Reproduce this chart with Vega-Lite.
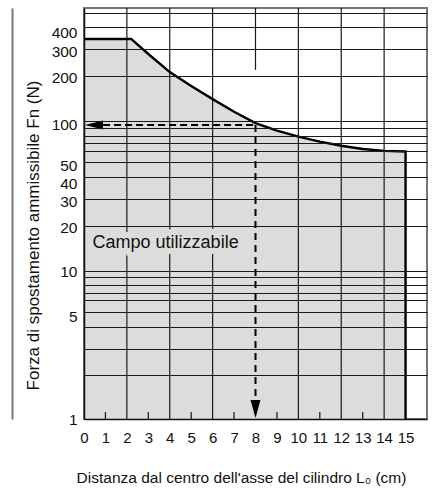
{
  "$schema": "https://vega.github.io/schema/vega-lite/v6.json",
  "autosize": "none",
  "width": 343,
  "height": 411,
  "padding": {"left": 84, "top": 8, "right": 7, "bottom": 74},
  "background": "white",
  "config": {
    "font": "Liberation Sans",
    "view": {"stroke": "#777", "strokeWidth": 2},
    "axis": {"labelFont": "Liberation Sans", "titleFont": "Liberation Sans", "labelColor": "#111", "titleColor": "#111", "titleFontWeight": "normal"}
  },
  "resolve": {"axis": {"y": "independent"}},
  "datasets": {
    "curve": [
      {"x": 0, "y": 385},
      {"x": 2.2, "y": 385},
      {"x": 3, "y": 304},
      {"x": 4, "y": 229},
      {"x": 5, "y": 184},
      {"x": 6, "y": 150},
      {"x": 7, "y": 123},
      {"x": 8, "y": 103},
      {"x": 9, "y": 91.5},
      {"x": 10, "y": 83.3},
      {"x": 11, "y": 77},
      {"x": 12, "y": 72.3},
      {"x": 13, "y": 68.7},
      {"x": 14, "y": 66.7},
      {"x": 15, "y": 66},
      {"x": 15, "y": 1}
    ],
    "vgrid": [
      {"x": 2, "y": 1, "y2": 625}, {"x": 4, "y": 1, "y2": 625}, {"x": 6, "y": 1, "y2": 625}, {"x": 8, "y": 237, "y2": 625}, {"x": 10, "y": 1, "y2": 625}, {"x": 12, "y": 1, "y2": 625}, {"x": 14, "y": 1, "y2": 625}
    ],
    "minorticks": [
      {"x": 1, "y": 1, "y2": 1.116}, {"x": 3, "y": 1, "y2": 1.116}, {"x": 5, "y": 1, "y2": 1.116}, {"x": 7, "y": 1, "y2": 1.116}, {"x": 9, "y": 1, "y2": 1.116}, {"x": 11, "y": 1, "y2": 1.116}, {"x": 13, "y": 1, "y2": 1.116}
    ],
    "hdash": [{"x": 0.89, "x2": 8, "y": 100}],
    "vdash": [{"x": 8, "y": 100, "y2": 1.35}],
    "larrow": [{"x": 0.466, "y": 100}],
    "darrow": [{"x": 8, "y": 1.17}],
    "label": [{"x": 0.4, "y": 15.7, "text": "Campo utilizzabile"}]
  },
  "encoding": {
    "x": {
      "field": "x",
      "type": "quantitative",
      "scale": {"domain": [0, 16], "nice": false, "zero": false},
      "axis": {
        "values": [0,1,2,3,4,5,6,7,8,9,10,11,12,13,14,15],
        "grid": false, "labelOverlap": false, "labelFlush": false,
        "domain": true, "domainColor": "#111", "domainWidth": 1.5,
        "ticks": false,
        "labelFontSize": 15, "labelPadding": 11, "labelAngle": 0,
        "title": "Distanza dal centro dell'asse del cilindro  L₀ (cm)",
        "titleFontSize": 15.5, "titleX": 157, "titleY": 58, "titleBaseline": "middle", "titleAnchor": "middle", "titleAlign": "center",
        "zindex": 1
      }
    },
    "y": {
      "type": "quantitative",
      "scale": {"type": "log", "domain": [1, 625], "nice": false}
    }
  },
  "layer": [
    {
      "data": {"name": "curve"},
      "mark": {"type": "area", "color": "#dcdcdc", "opacity": 1},
      "encoding": {
        "y": {"field": "y", "type": "quantitative",
          "axis": {
            "orient": "left",
            "values": [1,1.99,2.99,4.25,5,5.37,6.45,7.23,8.2,9.2,10,10.2,20,20.6,30,31.4,40,44.5,50,55.7,66.9,75.1,84.2,95,100,107,200,215,300,329,400,464,581],
            "labelExpr": "indexof([1,5,10,20,30,40,50,100,200,300,400], datum.value) >= 0 ? datum.label : ''",
            "grid": true, "gridColor": "#1a1a1a", "gridWidth": 1.2,
            "gridOpacity": {"condition": {"test": "indexof([1,5,10,20,30,40,50,100,200,300,400], datum.value) < 0", "value": 1}, "value": 0},
            "ticks": false, "labelOverlap": false, "labelFlush": false,
            "domain": true, "domainColor": "#111", "domainWidth": 1.5,
            "labelFontSize": 15.5, "labelPadding": 7,
            "labelOffset": {"condition": {"test": "datum.value >= 200 || datum.value == 50", "value": -3.5}, "value": 0},
            "title": "Forza di spostamento ammissibile  Fn (N)",
            "titleFontSize": 17, "titleX": -51, "titleY": 227, "titleBaseline": "middle", "titleAlign": "center", "titleAngle": -90,
            "zindex": 1
          }
        },
        "y2": {"datum": 1}
      }
    },
    {
      "data": {"name": "vgrid"},
      "mark": {"type": "rule", "color": "#1a1a1a", "strokeWidth": 1.2},
      "encoding": {
        "y": {"field": "y", "type": "quantitative",
          "axis": {"orient": "left", "offset": 72, "grid": false, "ticks": false, "labels": false, "title": null, "domain": true, "domainColor": "#777", "domainWidth": 2}},
        "y2": {"field": "y2"}
      }
    },
    {
      "data": {"name": "minorticks"},
      "mark": {"type": "rule", "color": "#222", "strokeWidth": 1.3},
      "encoding": {
        "y": {"field": "y", "type": "quantitative", "axis": null},
        "y2": {"field": "y2"}
      }
    },
    {
      "data": {"name": "curve"},
      "mark": {"type": "line", "color": "#000", "strokeWidth": 2.4, "strokeJoin": "miter"},
      "encoding": {
        "y": {"field": "y", "type": "quantitative", "axis": null}
      }
    },
    {
      "data": {"name": "hdash"},
      "mark": {"type": "rule", "color": "#000", "strokeWidth": 2, "strokeDash": [7, 4]},
      "encoding": {
        "x2": {"field": "x2"},
        "y": {"field": "y", "type": "quantitative", "axis": null}
      }
    },
    {
      "data": {"name": "vdash"},
      "mark": {"type": "rule", "color": "#000", "strokeWidth": 2, "strokeDash": [7, 5]},
      "encoding": {
        "y": {"field": "y", "type": "quantitative", "axis": null},
        "y2": {"field": "y2"}
      }
    },
    {
      "data": {"name": "larrow"},
      "mark": {"type": "point", "shape": "M -1 0 L 1 -0.5 L 1 0.5 Z", "filled": true, "color": "#000", "opacity": 1, "size": 324},
      "encoding": {
        "y": {"field": "y", "type": "quantitative", "axis": null}
      }
    },
    {
      "data": {"name": "darrow"},
      "mark": {"type": "point", "shape": "M 0 1 L -0.55 -1 L 0.55 -1 Z", "filled": true, "color": "#000", "opacity": 1, "size": 324},
      "encoding": {
        "y": {"field": "y", "type": "quantitative", "axis": null}
      }
    },
    {
      "data": {"name": "label"},
      "mark": {"type": "text", "align": "left", "baseline": "middle", "fontSize": 18, "font": "Liberation Sans", "color": "#dcdcdc", "stroke": "#dcdcdc", "strokeWidth": 12, "strokeJoin": "round"},
      "encoding": {
        "y": {"field": "y", "type": "quantitative", "axis": null},
        "text": {"field": "text"}
      }
    },
    {
      "data": {"name": "label"},
      "mark": {"type": "text", "align": "left", "baseline": "middle", "fontSize": 18, "font": "Liberation Sans", "color": "#111"},
      "encoding": {
        "y": {"field": "y", "type": "quantitative", "axis": null},
        "text": {"field": "text"}
      }
    }
  ]
}
